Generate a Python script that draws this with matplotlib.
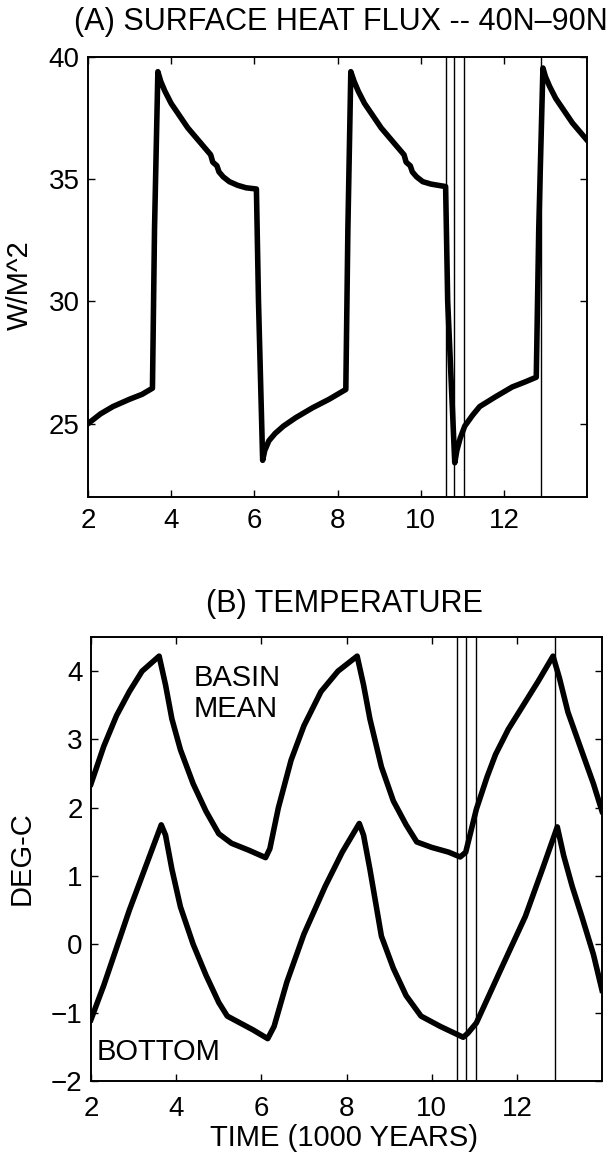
import numpy as np
import matplotlib
matplotlib.use("Agg")
import matplotlib.pyplot as plt

plt.rcParams['font.family'] = ['Liberation Sans', 'DejaVu Sans']

# (A) surface heat flux 40N-90N, W/M^2
flux_t = [2.0, 2.3, 2.6, 3.0, 3.3, 3.55, 3.6, 3.68, 3.75, 3.85, 4.0, 4.2, 4.4,
          4.6, 4.8, 4.95, 5.0, 5.1, 5.15, 5.25, 5.4, 5.6, 5.8, 6.05, 6.1, 6.2,
          6.25, 6.35, 6.5, 6.7, 7.0, 7.4, 7.8, 8.2, 8.25, 8.32, 8.4, 8.5, 8.65,
          8.85, 9.05, 9.25, 9.45, 9.6, 9.65, 9.75, 9.8, 9.9, 10.05, 10.25, 10.6,
          10.65, 10.82, 10.87, 10.95, 11.06, 11.25, 11.42, 11.8, 12.2, 12.5,
          12.78, 12.84, 12.94, 13.0, 13.1, 13.25, 13.45, 13.65, 13.85, 14.0]
flux = [25.0, 25.4, 25.7, 26.0, 26.2, 26.45, 33.0, 39.4, 39.0, 38.6, 38.1, 37.6,
        37.1, 36.7, 36.3, 36.0, 35.7, 35.55, 35.3, 35.1, 34.9, 34.75, 34.65,
        34.6, 30.0, 23.5, 23.9, 24.3, 24.6, 24.9, 25.25, 25.65, 26.0, 26.4,
        33.0, 39.4, 39.0, 38.6, 38.1, 37.6, 37.1, 36.7, 36.3, 36.0, 35.7, 35.55,
        35.3, 35.1, 34.9, 34.8, 34.7, 30.0, 23.4, 23.9, 24.4, 24.9, 25.35, 25.7,
        26.1, 26.5, 26.7, 26.9, 33.0, 39.55, 39.2, 38.8, 38.3, 37.8, 37.3, 36.9,
        36.6]

# (B) temperature, DEG-C
mean_t = [2.0, 2.3, 2.6, 2.9, 3.2, 3.6, 3.75, 3.9, 4.1, 4.4, 4.7, 5.0, 5.3, 5.7,
          6.1, 6.2, 6.4, 6.7, 7.0, 7.4, 7.8, 8.25, 8.4, 8.55, 8.82, 9.1, 9.4,
          9.65, 10.0, 10.4, 10.67, 10.8, 11.05, 11.3, 11.5, 11.8, 12.2, 12.5,
          12.85, 13.0, 13.2, 13.53, 13.8, 14.0]
mean_temp = [2.35, 2.9, 3.35, 3.7, 4.0, 4.22, 3.8, 3.3, 2.85, 2.35, 1.95, 1.62,
             1.48, 1.38, 1.27, 1.4, 2.0, 2.7, 3.2, 3.7, 4.0, 4.22, 3.8, 3.3, 2.6,
             2.1, 1.75, 1.5, 1.42, 1.35, 1.28, 1.35, 1.98, 2.45, 2.78, 3.15,
             3.55, 3.85, 4.22, 3.9, 3.4, 2.82, 2.35, 1.95]

bot_t = [2.0, 2.3, 2.6, 2.9, 3.2, 3.5, 3.65, 3.75, 3.9, 4.1, 4.4, 4.7, 5.0, 5.2,
         5.5, 5.8, 6.15, 6.3, 6.6, 7.0, 7.5, 7.9, 8.3, 8.4, 8.55, 8.82, 9.1, 9.4,
         9.75, 10.2, 10.74, 10.85, 11.05, 11.6, 12.2, 12.6, 12.95, 13.1, 13.3,
         13.53, 13.8, 14.0]
bot_temp = [-1.1, -0.6, -0.05, 0.5, 1.0, 1.5, 1.75, 1.6, 1.1, 0.55, 0.0, -0.45,
            -0.85, -1.05, -1.15, -1.25, -1.38, -1.2, -0.55, 0.15, 0.85, 1.35,
            1.77, 1.6, 1.1, 0.12, -0.35, -0.75, -1.05, -1.2, -1.36, -1.3, -1.15,
            -0.4, 0.41, 1.1, 1.72, 1.3, 0.85, 0.4, -0.15, -0.67]

vlines = [10.6, 10.8, 11.05, 12.9]
xticks = [2, 4, 6, 8, 10, 12]

fig = plt.figure(figsize=(6.12, 11.53), dpi=100)
ax1 = fig.add_axes([88/612, 1-497/1153, 499/612, 440/1153])
ax2 = fig.add_axes([91/612, 1-1081/1153, 511/612, 444/1153])

for ax in (ax1, ax2):
    for x in vlines:
        ax.axvline(x, color='black', lw=1.0)
    ax.set_xlim(2, 14)
    ax.set_xticks(xticks)
    ax.tick_params(direction='in', top=True, right=True, length=5, width=1,
                   labelsize=20)
    ax.tick_params(axis='y', pad=6)
    for s in ax.spines.values():
        s.set_linewidth(1.4)

ax1.tick_params(axis='x', pad=8)
ax2.tick_params(axis='x', pad=11)

ax1.plot(flux_t, flux, color='black', lw=4, solid_joinstyle='round')
ax1.set_ylim(22, 40)
ax1.set_yticks([25, 30, 35, 40])
fig.text(20/612, 1-285/1153, "W/M^2", fontsize=21, rotation=90,
         ha='center', va='center')
fig.text(341/612, 1-22/1153, "(A) SURFACE HEAT FLUX -- 40N–90N", fontsize=22,
         ha='center', va='center')

ax2.plot(mean_t, mean_temp, color='black', lw=4, solid_joinstyle='round')
ax2.plot(bot_t, bot_temp, color='black', lw=4, solid_joinstyle='round')
ax2.set_ylim(-2, 4.5)
ax2.set_yticks([-2, -1, 0, 1, 2, 3, 4])
fig.text(22/612, 1-858/1153, "DEG-C", fontsize=21, rotation=90,
         ha='center', va='center')
fig.text(344/612, 1-1138/1153, "TIME (1000 YEARS)", fontsize=21,
         ha='center', va='center')
fig.text(344/612, 1-604/1153, "(B) TEMPERATURE", fontsize=22,
         ha='center', va='center')
ax2.text(4.4, 3.9, "BASIN", fontsize=21, va='center')
ax2.text(4.4, 3.45, "MEAN", fontsize=21, va='center')
ax2.text(2.14, -1.57, "BOTTOM", fontsize=21, va='center')

fig.savefig("out.png", dpi=100)
